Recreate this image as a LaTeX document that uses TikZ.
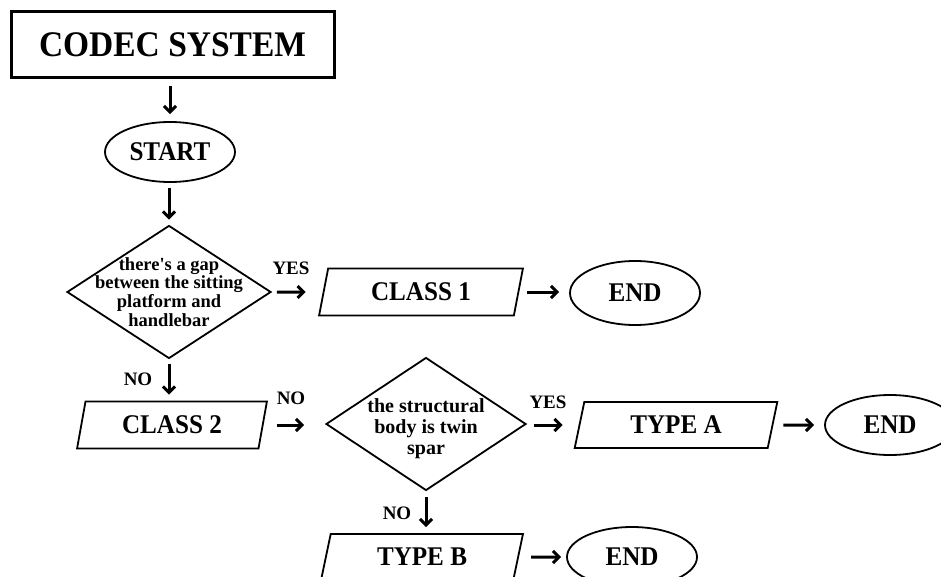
\documentclass[tikz,border=0pt]{standalone}
\usepackage{fontspec}
\setmainfont{Liberation Serif}
\newfontfamily\condfont{Liberation Serif}[FakeStretch=0.93]
\usetikzlibrary{shapes.geometric,arrows.meta}

\begin{document}
\begin{tikzpicture}[x=1pt,y=-1pt,
  title/.style={draw,line width=3pt,minimum width=323pt,minimum height=66pt,inner sep=0pt,font=\condfont\bfseries\fontsize{36}{40}\selectfont},
  term/.style={draw,ellipse,line width=1.8pt,minimum width=130pt,minimum height=60pt,inner sep=0pt,font=\condfont\bfseries\fontsize{27}{30}\selectfont},
  io/.style={draw,trapezium,trapezium left angle=75,trapezium right angle=105,trapezium stretches=true,line width=1.8pt,minimum width=204pt,minimum height=47pt,inner sep=0pt,font=\condfont\bfseries\fontsize{27}{30}\selectfont},
  decision/.style={draw,diamond,line width=1.8pt,minimum width=204pt,minimum height=133pt,inner sep=0pt},
  dtext/.style={align=center,inner sep=0pt},
  answer/.style={inner sep=0pt,font=\bfseries\fontsize{19}{20}\selectfont},
  flow/.style={line width=3pt,-{Straight Barb[length=6pt,width=12pt]}}
]
\useasboundingbox (0,0) rectangle (941,577);

\node[title] (codec) at (172.5,44.5) {CODEC SYSTEM};
\node[term] (start) at (170,152) {START};
\node[decision] (gap) at (169,292) {};
\node[dtext,font=\bfseries\fontsize{18.5}{18.7}\selectfont] (gaptext) at (gap) {there\textquotesingle s a gap\\between the sitting\\platform and\\handlebar};
\node[io] (class1) at (421,292) {CLASS 1};
\node[term,minimum height=64pt] (end1) at (635,293) {END};
\node[io,minimum width=190pt] (class2) at (172,425) {CLASS 2};
\node[decision,minimum width=200pt] (twin) at (426,424) {};
\node[dtext,font=\bfseries\fontsize{20}{21}\selectfont] (twintext) at (426,429) {the structural\\body is twin\\spar};
\node[io,minimum width=203pt,minimum height=46pt] (typea) at (676,425) {TYPE A};
\node[term] (end2) at (890,425) {END};
\node[io,minimum width=203pt,minimum height=46pt] (typeb) at (422,557) {TYPE B};
\node[term] (end3) at (632,557) {END};

\node[answer] (yes1) at (291,268) {YES};
\node[answer] (no1) at (138,379) {NO};
\node[answer] (no2) at (291,398) {NO};
\node[answer] (yes2) at (548,402) {YES};
\node[answer] (no3) at (397,513) {NO};

\draw[flow,shorten <=7pt,shorten >=7pt] (start.north |- codec.south) -- (start.north);
\draw[flow,shorten <=5pt,shorten >=5pt] (start.south -| gap.north) -- (gap.north);
\draw[flow,shorten <=5pt,shorten >=17pt] (gap.east) -- (class1.west);
\draw[flow,shorten <=8pt,shorten >=10pt] (class1.east) -- (end1.west |- class1.east);
\draw[flow,shorten <=5pt,shorten >=6pt] (gap.south) -- (gap.south |- class2.north);
\draw[flow,shorten <=13pt,shorten >=21pt] (class2.east) -- (twin.west |- class2.east);
\draw[flow,shorten <=7pt,shorten >=16pt] (twin.east |- typea.west) -- (typea.west);
\draw[flow,shorten <=10pt,shorten >=10pt] (typea.east) -- (end2.west);
\draw[flow,shorten <=6pt,shorten >=6pt] (twin.south) -- (twin.south |- typeb.north);
\draw[flow,shorten <=12pt,shorten >=5pt] (typeb.east) -- (end3.west);
\end{tikzpicture}
\end{document}
